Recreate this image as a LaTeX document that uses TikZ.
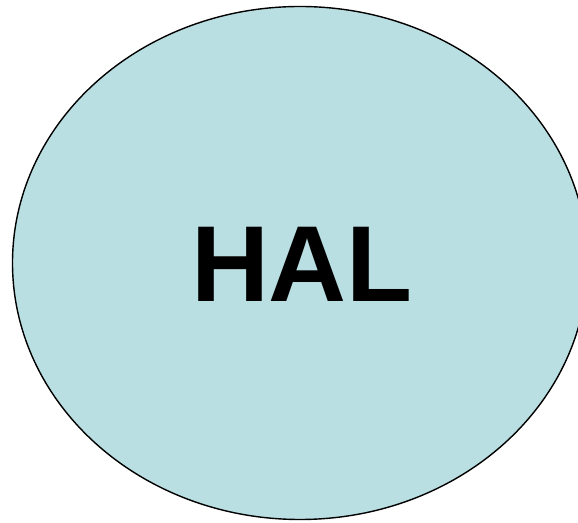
\documentclass[tikz,border=0pt]{standalone}
\usepackage{fontspec}
\setmainfont{Liberation Sans}
\definecolor{halfill}{RGB}{185,223,227}
\begin{document}
\begin{tikzpicture}[x=1pt,y=1pt,
  halshape/.style={draw=black, line width=1.4pt, fill=halfill},
  hallabel/.style={inner sep=0pt, font=\fontsize{108}{108}\selectfont\bfseries}]
\useasboundingbox (0,0) rectangle (578,522);
\begin{scope}
\clip (0,0) rectangle (578,522);
\draw[halshape] (300,259) ellipse [x radius=287.5, y radius=256.5];
\end{scope}
\node[hallabel] (hal) at (302,258) {HAL};
\end{tikzpicture}
\end{document}
